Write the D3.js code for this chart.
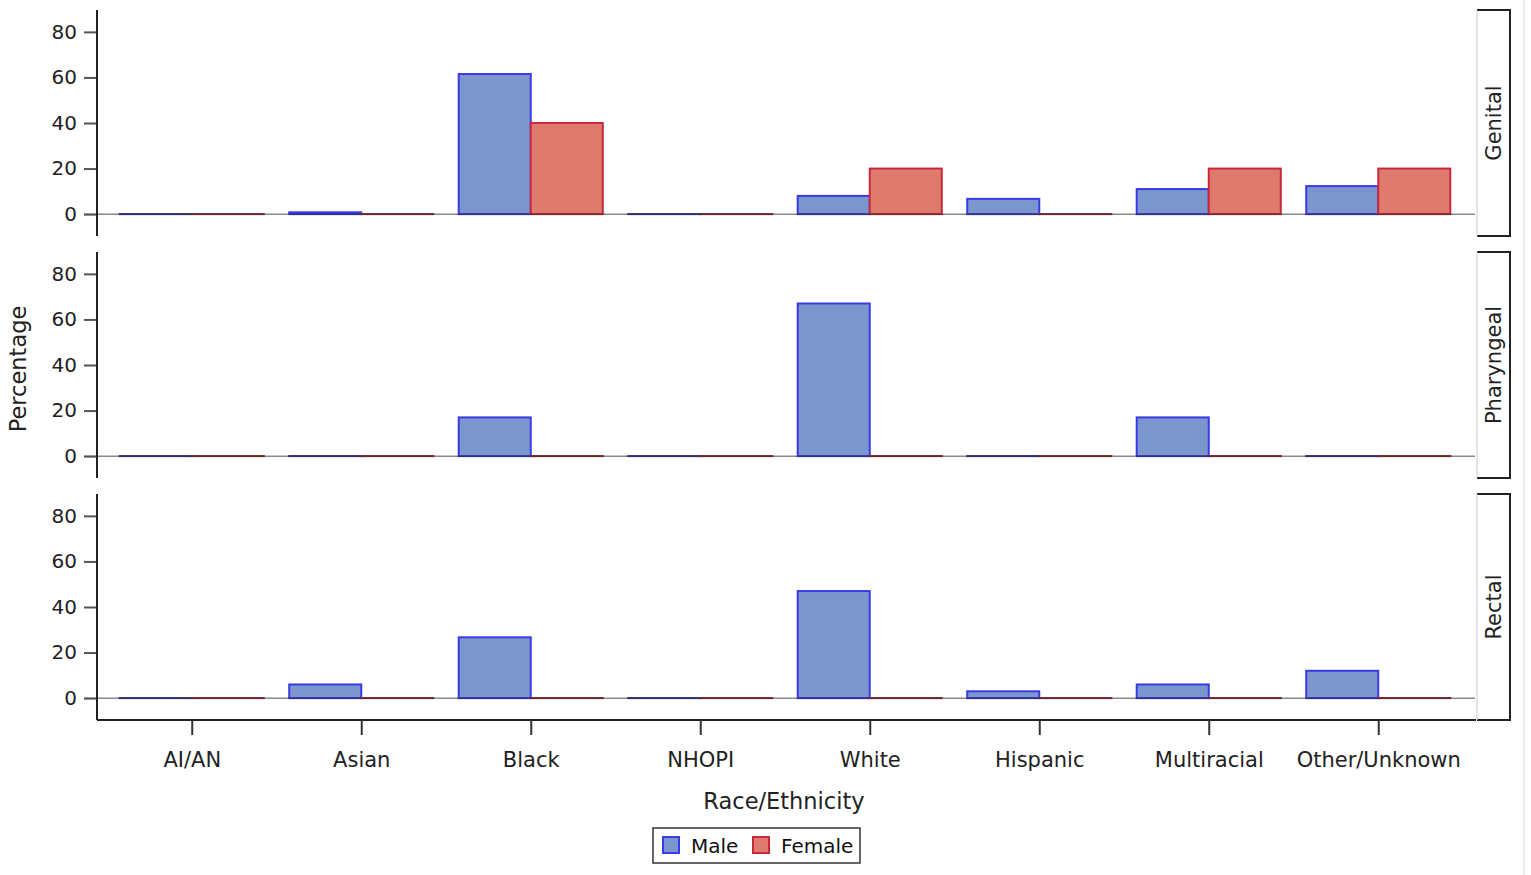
<!DOCTYPE html>
<html><head><meta charset="utf-8">
<script src="https://cdn.jsdelivr.net/npm/d3@7/dist/d3.min.js"></script>
<style>body{margin:0;background:#fff;}svg{display:block;font-family:"DejaVu Sans",sans-serif;}</style>
</head><body>
<script>
const categories = ["AI/AN","Asian","Black","NHOPI","White","Hispanic","Multiracial","Other/Unknown"];
const sexes = ["Male","Female"];
const panels = ["Genital","Pharyngeal","Rectal"];
const genitalMale     = [0, 0.8, 61.5, 0, 8, 6.7, 11, 12.3];
const genitalFemale   = [0, 0, 40, 0, 20, 0, 20, 20];
const pharyngealMale  = [0, 0, 17, 0, 67, 0, 17, 0];
const pharyngealFemale= [0, 0, 0, 0, 0, 0, 0, 0];
const rectalMale      = [0, 6, 26.7, 0, 47, 3, 6, 12];
const rectalFemale    = [0, 0, 0, 0, 0, 0, 0, 0];
const yTicks = [0, 20, 40, 60, 80];
const seriesByPanel = {
  Genital: [genitalMale, genitalFemale],
  Pharyngeal: [pharyngealMale, pharyngealFemale],
  Rectal: [rectalMale, rectalFemale]
};
const fills = {Male:"#7b96cc", Female:"#de7b6c"};
const strokes = {Male:"#3a3ae8", Female:"#c8283c"};
const zeroStrokes = {Male:"#3a3a9a", Female:"#9a3036"};

const W = 1531, H = 875;
const svg = d3.select("body").append("svg").attr("width", W).attr("height", H);

const axisX = 97, plotRight = 1476;
const panelTop0 = 10, panelH = 226, panelStep = 242;

const x0 = d3.scaleBand().domain(categories).range([107, 1463]).paddingInner(0.15).paddingOuter(0.075);
const x1 = d3.scaleBand().domain(sexes).range([0, x0.bandwidth()]);

panels.forEach((p, i) => {
  const top = panelTop0 + i * panelStep, bot = top + panelH;
  const y = d3.scaleLinear().domain([-9.6, 89.6]).range([bot, top]);
  const g = svg.append("g");
  // bars
  sexes.forEach((s, si) => {
    const vals = seriesByPanel[p][si];
    g.selectAll(null).data(categories.map((c, k) => ({c, v: vals[k]}))).enter().append("rect")
      .attr("x", d => x0(d.c) + x1(s))
      .attr("width", x1.bandwidth())
      .attr("y", d => Math.min(y(d.v), y(0) - 0.1))
      .attr("height", d => Math.max(0.1, y(0) - y(d.v)))
      .attr("fill", fills[s])
      .attr("stroke", d => d.v === 0 ? zeroStrokes[s] : strokes[s])
      .attr("stroke-width", 2);
  });
  // zero reference line
  g.append("line").attr("x1", 84).attr("x2", 1475).attr("y1", y(0)).attr("y2", y(0))
    .attr("stroke", "rgba(40,40,40,0.55)").attr("stroke-width", 1.5);
  // y axis
  const ax = g.append("g").attr("transform", `translate(${axisX},0)`)
    .call(d3.axisLeft(y).tickValues(yTicks).tickSize(13).tickPadding(7));
  ax.select(".domain").remove();
  ax.selectAll(".tick line").attr("stroke", "#555").attr("stroke-width", 2);
  ax.selectAll(".tick text").attr("font-size", 20).attr("fill", "#222").attr("font-family", "DejaVu Sans");
  g.append("line").attr("x1", axisX).attr("x2", axisX).attr("y1", top).attr("y2", bot)
    .attr("stroke", "#222").attr("stroke-width", 2);
  // strip
  const sx = 1477, sw = 33;
  g.append("path").attr("d", `M${sx},${top}H${sx+sw}V${bot}H${sx}`)
    .attr("fill", "none").attr("stroke", "#222").attr("stroke-width", 2);
  g.append("line").attr("x1", sx).attr("x2", sx).attr("y1", top).attr("y2", bot)
    .attr("stroke", "#ccc").attr("stroke-width", 1);
  g.append("text").attr("transform", `translate(${sx + sw/2 + 7},${(top+bot)/2}) rotate(-90)`)
    .attr("text-anchor", "middle").attr("font-size", 21).attr("fill", "#222").text(p);
});

// bottom x axis
const xAxisY = panelTop0 + 2 * panelStep + panelH;
svg.append("line").attr("x1", axisX).attr("x2", plotRight).attr("y1", xAxisY).attr("y2", xAxisY)
  .attr("stroke", "#222").attr("stroke-width", 2);
const xa = svg.append("g").attr("transform", `translate(0,${xAxisY})`)
  .call(d3.axisBottom(d3.scalePoint().domain(categories).range([x0(categories[0]) + x0.bandwidth()/2, x0(categories[7]) + x0.bandwidth()/2])).tickSize(15).tickPadding(17));
xa.select(".domain").remove();
xa.selectAll(".tick line").attr("stroke", "#333").attr("stroke-width", 2);
xa.selectAll(".tick text").attr("font-size", 21).attr("fill", "#222").attr("font-family", "DejaVu Sans");

svg.append("text").attr("x", 784).attr("y", 809).attr("text-anchor", "middle")
  .attr("font-size", 22.5).attr("fill", "#222").text("Race/Ethnicity");
svg.append("text").attr("transform", "translate(26,369) rotate(-90)").attr("text-anchor", "middle")
  .attr("font-size", 22.5).attr("fill", "#222").text("Percentage");

// legend
const lg = svg.append("g");
lg.append("rect").attr("x", 653).attr("y", 828).attr("width", 207).attr("height", 35)
  .attr("fill", "#fff").attr("stroke", "#333").attr("stroke-width", 1.5);
const legendX = {Male: 663, Female: 753};
sexes.forEach(s => {
  lg.append("rect").attr("x", legendX[s]).attr("y", 837).attr("width", 16).attr("height", 16)
    .attr("fill", fills[s]).attr("stroke", strokes[s]).attr("stroke-width", 2);
  lg.append("text").attr("x", legendX[s] + 28).attr("y", 853).attr("font-size", 20).attr("fill", "#111").text(s);
});
svg.append("line").attr("x1", 1524).attr("x2", 1524).attr("y1", 0).attr("y2", H).attr("stroke", "#e6e6e6").attr("stroke-width", 1.5);
</script>
</body></html>
